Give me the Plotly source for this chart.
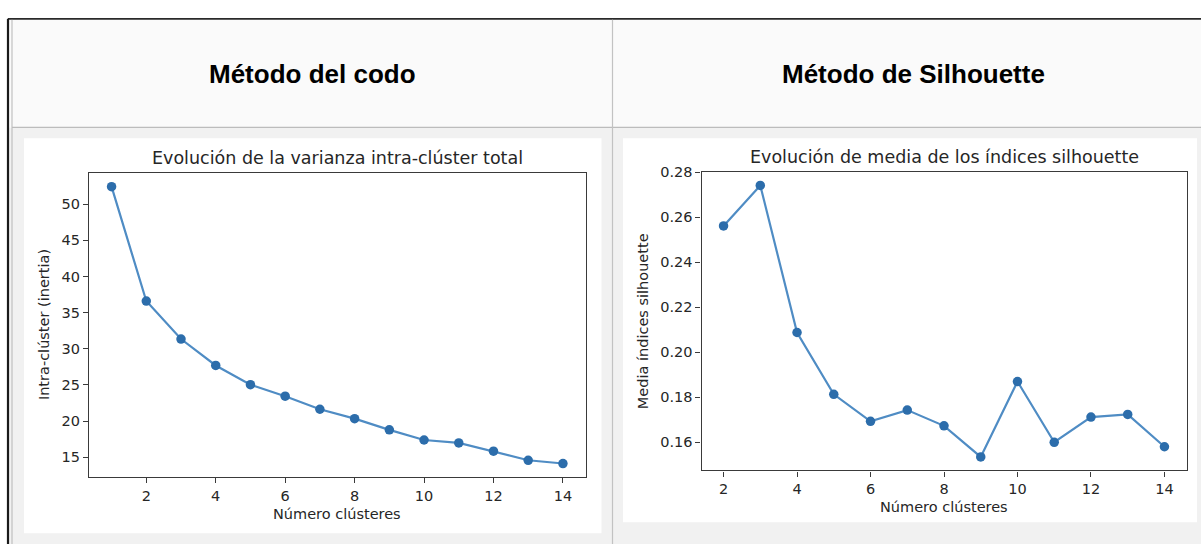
import plotly.graph_objects as go

# ---- data -------------------------------------------------------------
k_codo = list(range(1, 15))
inercia = [52.4, 36.6, 31.35, 27.7, 25.05, 23.45, 21.65, 20.35, 18.8, 17.4,
           17.0, 15.85, 14.6, 14.15]

k_sil = list(range(2, 15))
silhouette = [0.2562, 0.2742, 0.2088, 0.1813, 0.1693, 0.1743, 0.1673, 0.1535,
              0.1870, 0.1600, 0.1712, 0.1724, 0.1580]

x_ticks = [2, 4, 6, 8, 10, 12, 14]
y_ticks_codo = [15, 20, 25, 30, 35, 40, 45, 50]
y_ticks_sil = [0.16, 0.18, 0.20, 0.22, 0.24, 0.26, 0.28]

header_titles = ["Método del codo", "Método de Silhouette"]
chart_titles = ["Evolución de la varianza intra-clúster total",
                "Evolución de media de los índices silhouette"]
x_label = "Número clústeres"
y_labels = ["Intra-clúster (inertia)", "Media índices silhouette"]

# ---- page geometry (pixels) -------------------------------------------
W, H = 1201, 544


def fx(x):
    return x / W


def fy(y):
    return 1 - y / H


def padded(vals, frac=0.05):
    lo, hi = min(vals), max(vals)
    m = (hi - lo) * frac
    return [lo - m, hi + m]


LINE = "#4f8cc4"
MARK = "#2c6dab"
SPINE = "#3a3a3a"
TXT = "#262626"
MPL_FONT = "DejaVu Sans"

fig = go.Figure()

fig.add_trace(go.Scatter(
    x=k_codo, y=inercia, mode="lines+markers", xaxis="x", yaxis="y",
    line=dict(color=LINE, width=2.2),
    marker=dict(color=MARK, size=9.5), showlegend=False))

fig.add_trace(go.Scatter(
    x=k_sil, y=silhouette, mode="lines+markers", xaxis="x2", yaxis="y2",
    line=dict(color=LINE, width=2.2),
    marker=dict(color=MARK, size=9.5), showlegend=False))

# plot-area boxes in pixels: (left, top, right, bottom)
box1 = (89, 168, 585.5, 476.5)
box2 = (701.5, 167, 1186.5, 469.5)

axis_common = dict(
    showline=True, mirror=True, linecolor=SPINE, linewidth=1.2,
    ticks="outside", ticklen=5, tickwidth=1.1, tickcolor=SPINE,
    showgrid=False, zeroline=False,
    tickfont=dict(family=MPL_FONT, size=14.5, color=TXT),
)

shapes = []
# table cell backgrounds
shapes.append(dict(type="rect", xref="paper", yref="paper", layer="below",
                   x0=fx(8), x1=fx(W), y0=fy(122), y1=fy(12),
                   fillcolor="#fafafa", line=dict(width=0)))
shapes.append(dict(type="rect", xref="paper", yref="paper", layer="below",
                   x0=fx(8), x1=fx(W), y0=fy(H), y1=fy(122),
                   fillcolor="#f1f1f1", line=dict(width=0)))
# white image panels
shapes.append(dict(type="rect", xref="paper", yref="paper", layer="below",
                   x0=fx(24), x1=fx(601.5), y0=fy(533), y1=fy(133),
                   fillcolor="#ffffff", line=dict(width=0)))
shapes.append(dict(type="rect", xref="paper", yref="paper", layer="below",
                   x0=fx(623), x1=fx(1197), y0=fy(522), y1=fy(133),
                   fillcolor="#ffffff", line=dict(width=0)))
# table borders
shapes.append(dict(type="line", xref="paper", yref="paper", layer="below",
                   x0=fx(8), x1=fx(W), y0=fy(12), y1=fy(12),
                   line=dict(color="#2a2a2a", width=1.6)))
shapes.append(dict(type="line", xref="paper", yref="paper", layer="below",
                   x0=fx(8), x1=fx(8), y0=fy(12), y1=fy(H),
                   line=dict(color="#1a1a1a", width=2.2)))
shapes.append(dict(type="line", xref="paper", yref="paper", layer="below",
                   x0=fx(12), x1=fx(12), y0=fy(13), y1=fy(H),
                   line=dict(color="#b5b5b5", width=1)))
shapes.append(dict(type="line", xref="paper", yref="paper", layer="below",
                   x0=fx(12), x1=fx(W), y0=fy(122), y1=fy(122),
                   line=dict(color="#bcbcbc", width=1.2)))
shapes.append(dict(type="line", xref="paper", yref="paper", layer="below",
                   x0=fx(612.5), x1=fx(612.5), y0=fy(13), y1=fy(H),
                   line=dict(color="#c2c2c2", width=1.2)))

annotations = []
# header cells
for title, cx in zip(header_titles, [312.5, 913.5]):
    annotations.append(dict(
        text=f"<b>{title}</b>", xref="paper", yref="paper",
        x=fx(cx), y=fy(68), xanchor="center", yanchor="middle", showarrow=False,
        font=dict(family="Liberation Sans, Arial", size=26, color="#000000")))

# chart titles and axis labels
for i, box in enumerate([box1, box2]):
    l, t, r, b = box
    annotations.append(dict(
        text=chart_titles[i], xref="paper", yref="paper",
        x=fx((l + r) / 2), y=fy(t - 15), xanchor="center", yanchor="middle",
        showarrow=False, font=dict(family=MPL_FONT, size=17.5, color=TXT)))
    annotations.append(dict(
        text=x_label, xref="paper", yref="paper",
        x=fx((l + r) / 2), y=fy(b + 37), xanchor="center", yanchor="middle",
        showarrow=False, font=dict(family=MPL_FONT, size=14.5, color=TXT)))

annotations.append(dict(
    text=y_labels[0], xref="paper", yref="paper", textangle=-90,
    x=fx(44), y=fy((box1[1] + box1[3]) / 2), xanchor="center", yanchor="middle",
    showarrow=False, font=dict(family=MPL_FONT, size=14.5, color=TXT)))
annotations.append(dict(
    text=y_labels[1], xref="paper", yref="paper", textangle=-90,
    x=fx(643), y=fy((box2[1] + box2[3]) / 2), xanchor="center", yanchor="middle",
    showarrow=False, font=dict(family=MPL_FONT, size=14.5, color=TXT)))

fig.update_layout(
    width=W, height=H,
    margin=dict(l=0, r=0, t=0, b=0),
    paper_bgcolor="#ffffff",
    plot_bgcolor="#ffffff",
    showlegend=False,
    shapes=shapes,
    annotations=annotations,
    xaxis=dict(axis_common, domain=[fx(box1[0]), fx(box1[2])],
               range=padded(k_codo), tickvals=x_ticks, anchor="y"),
    yaxis=dict(axis_common, domain=[fy(box1[3]), fy(box1[1])],
               range=padded(inercia), tickvals=y_ticks_codo, anchor="x"),
    xaxis2=dict(axis_common, domain=[fx(box2[0]), fx(box2[2])],
                range=padded(k_sil), tickvals=x_ticks, anchor="y2"),
    yaxis2=dict(axis_common, domain=[fy(box2[3]), fy(box2[1])],
                range=padded(silhouette), tickvals=y_ticks_sil,
                tickformat=".2f", anchor="x2"),
)

fig.write_html("out.html")
